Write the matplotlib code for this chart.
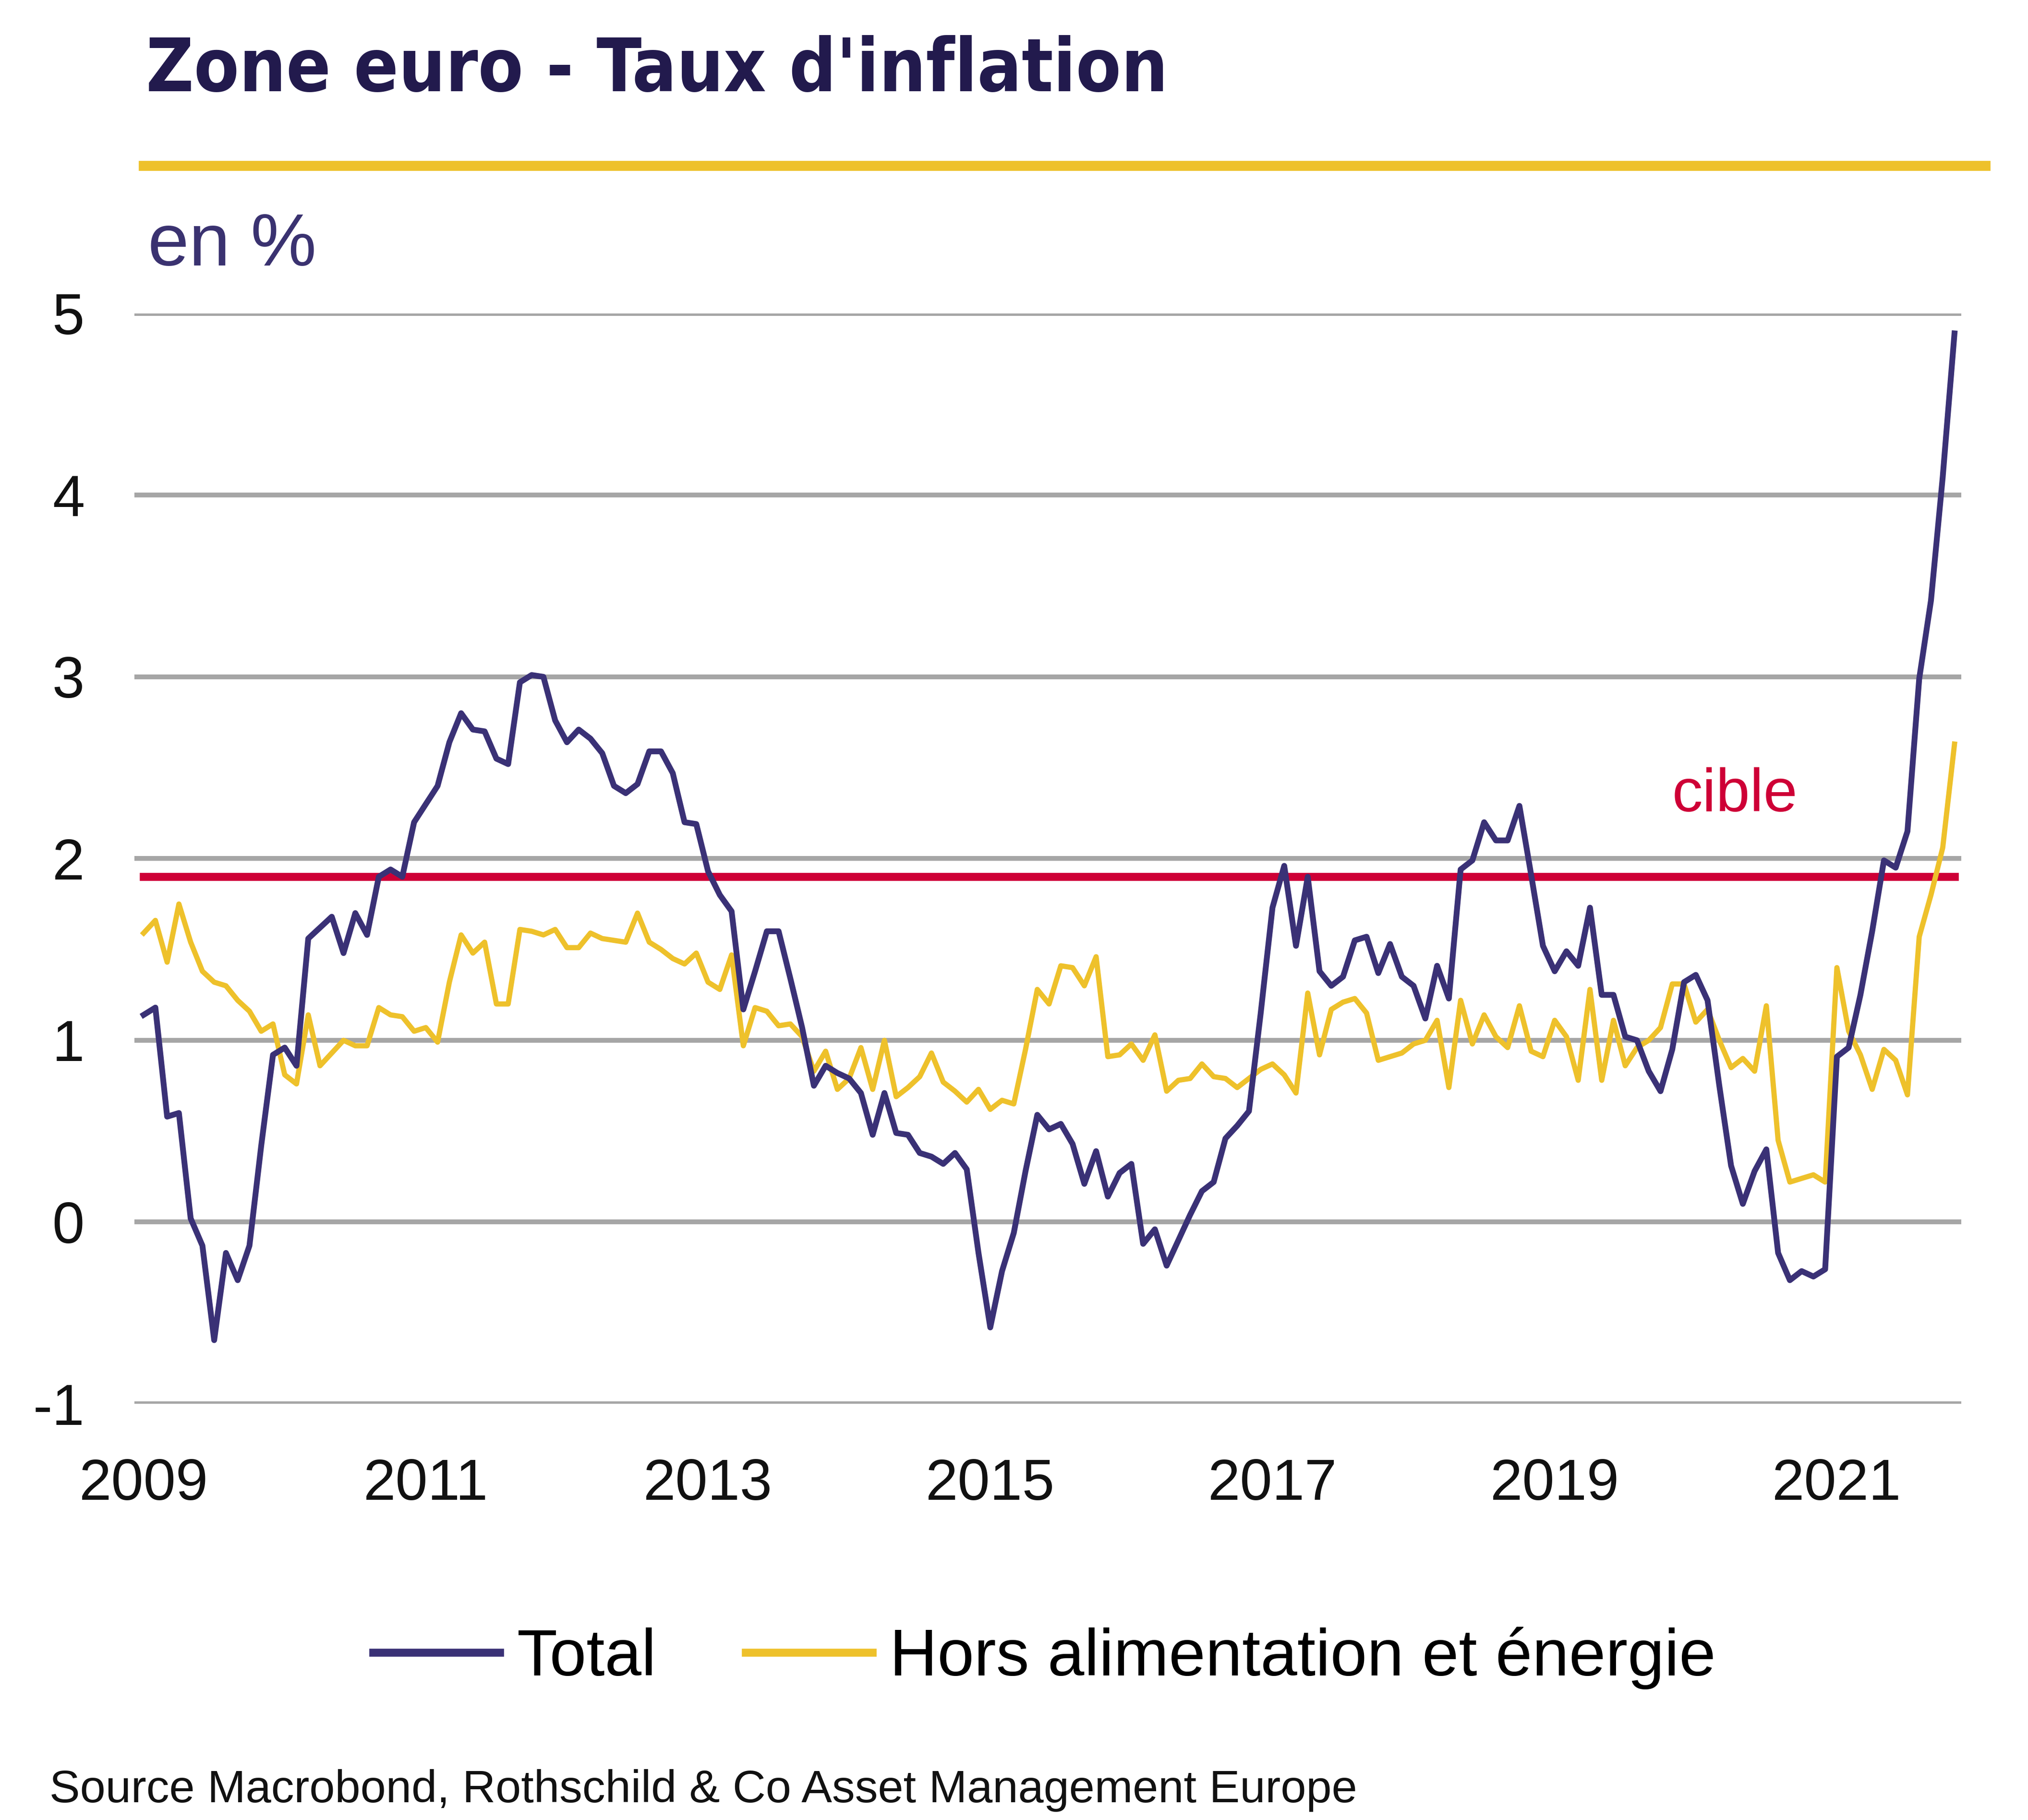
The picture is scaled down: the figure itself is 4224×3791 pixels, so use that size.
import numpy as np
import matplotlib
matplotlib.use("Agg")
import matplotlib.pyplot as plt
from matplotlib.lines import Line2D
from matplotlib import font_manager

# monthly rates, Jan 2009 - Nov 2021
total = [
    1.14, 1.18, 0.58, 0.60, 0.02, -0.13, -0.65, -0.17, -0.32, -0.13, 0.42, 0.92,
    0.96, 0.86, 1.56, 1.62, 1.68, 1.48, 1.70, 1.58, 1.90, 1.94, 1.90, 2.20,
    2.30, 2.40, 2.64, 2.80, 2.71, 2.70, 2.55, 2.52, 2.97, 3.01, 3.00, 2.76,
    2.64, 2.71, 2.66, 2.58, 2.40, 2.36, 2.41, 2.59, 2.59, 2.47, 2.20, 2.19,
    1.93, 1.80, 1.71, 1.17, 1.38, 1.60, 1.60, 1.34, 1.07, 0.75, 0.86, 0.82,
    0.79, 0.71, 0.48, 0.71, 0.49, 0.48, 0.38, 0.36, 0.32, 0.38, 0.29, -0.17,
    -0.58, -0.27, -0.06, 0.28, 0.59, 0.51, 0.54, 0.43, 0.21, 0.39, 0.14, 0.27,
    0.32, -0.12, -0.04, -0.24, -0.10, 0.04, 0.17, 0.22, 0.46, 0.53, 0.61, 1.15,
    1.73, 1.96, 1.52, 1.90, 1.38, 1.30, 1.35, 1.55, 1.57, 1.37, 1.53, 1.35,
    1.30, 1.12, 1.41, 1.23, 1.94, 1.99, 2.20, 2.10, 2.10, 2.29, 1.91, 1.52,
    1.38, 1.49, 1.41, 1.73, 1.25, 1.25, 1.02, 1.00, 0.83, 0.72, 0.95, 1.32,
    1.36, 1.22, 0.75, 0.31, 0.10, 0.28, 0.40, -0.17, -0.32, -0.27, -0.30, -0.26,
    0.91, 0.96, 1.25, 1.60, 1.99, 1.95, 2.15, 2.99, 3.42, 4.10, 4.89,
]
core = [
    1.59, 1.66, 1.43, 1.75, 1.54, 1.38, 1.32, 1.30, 1.22, 1.16, 1.05, 1.09,
    0.81, 0.76, 1.14, 0.86, 0.93, 1.00, 0.97, 0.97, 1.18, 1.14, 1.13, 1.05,
    1.07, 0.99, 1.32, 1.58, 1.48, 1.54, 1.20, 1.20, 1.61, 1.60, 1.58, 1.61,
    1.51, 1.51, 1.59, 1.56, 1.55, 1.54, 1.70, 1.54, 1.50, 1.45, 1.42, 1.48,
    1.32, 1.28, 1.47, 0.97, 1.18, 1.16, 1.08, 1.09, 1.02, 0.83, 0.94, 0.73,
    0.79, 0.96, 0.73, 1.00, 0.69, 0.74, 0.80, 0.93, 0.77, 0.72, 0.66, 0.73,
    0.62, 0.67, 0.65, 0.95, 1.28, 1.20, 1.41, 1.40, 1.30, 1.46, 0.91, 0.92,
    0.98, 0.89, 1.03, 0.72, 0.78, 0.79, 0.87, 0.80, 0.79, 0.74, 0.79, 0.84,
    0.87, 0.81, 0.71, 1.26, 0.92, 1.17, 1.21, 1.23, 1.15, 0.89, 0.91, 0.93,
    0.98, 1.00, 1.11, 0.74, 1.22, 0.98, 1.14, 1.02, 0.96, 1.19, 0.94, 0.91,
    1.11, 1.02, 0.78, 1.28, 0.78, 1.11, 0.86, 0.96, 1.00, 1.07, 1.31, 1.31,
    1.10, 1.17, 1.00, 0.85, 0.90, 0.83, 1.19, 0.45, 0.22, 0.24, 0.26, 0.22,
    1.40, 1.05, 0.92, 0.73, 0.95, 0.89, 0.70, 1.57, 1.80, 2.06, 2.63,
]
target = 1.9
year_labels = ["2009", "2011", "2013", "2015", "2017", "2019", "2021"]
y_ticks = [-1, 0, 1, 2, 3, 4, 5]

NAVY = "#3A3176"
GOLD = "#EEC12B"
RED = "#CE0036"
TITLE = "#221A4D"

plt.rcParams["font.family"] = ["Liberation Sans", "DejaVu Sans"]


def has_font(name, **kw):
    try:
        font_manager.findfont(font_manager.FontProperties(family=name, **kw),
                              fallback_to_default=False)
        return True
    except ValueError:
        return False


narrow = "Liberation Sans Narrow" if has_font("Liberation Sans Narrow") else "Liberation Sans"

fig = plt.figure(figsize=(14.08, 12.6367), dpi=300)
ax = fig.add_axes([0.0663, 0.2287, 0.9007, 0.5991])

months = np.arange(len(total))
for v in y_ticks:
    ax.axhline(v, color="#A6A6A6", lw=2.4, zorder=1)
ax.plot([months[0], months[-1]], [target, target], color=RED, lw=4.0, zorder=2)
ax.plot(months, core, color=GOLD, lw=2.6, zorder=3)
ax.plot(months, total, color=NAVY, lw=2.9, zorder=4)

ax.set_xlim(-0.78, 154.56)
ax.set_ylim(-1, 5)
ax.set_xticks(np.arange(len(year_labels)) * 24)
ax.set_xticklabels(year_labels)
ax.set_yticks(y_ticks)
ax.set_yticklabels([str(v) for v in y_ticks])
ax.tick_params(axis="both", length=0, labelsize=29, colors="#111111")
ax.tick_params(axis="x", pad=27)
ax.tick_params(axis="y", pad=25)
for s in ax.spines.values():
    s.set_visible(False)

ax.text(135.3, 2.26, "cible", color=RED, fontsize=30.5, ha="center", va="baseline")

renderer = fig.canvas.get_renderer()


def fit_width(txt, width_px):
    w = txt.get_window_extent(renderer).width
    txt.set_fontsize(txt.get_fontsize() * width_px / w)


title = fig.text(0.072, 0.95, "Zone euro - Taux d'inflation", fontsize=40, fontweight="bold",
                 color=TITLE, family=["DejaVu Sans"], fontstretch="condensed", va="baseline")
fit_width(title, 2130)

fig.add_artist(Line2D([0.0708, 0.979], [0.909, 0.909], color=GOLD, lw=5))

fig.text(0.073, 0.854, "en %", fontsize=37, color="#3A3270", va="baseline")

handles = [Line2D([], [], color=NAVY, lw=4), Line2D([], [], color=GOLD, lw=4)]
leg_size = 36 if narrow != "Liberation Sans" else 33
fig.legend(handles, ["Total", "Hors alimentation et énergie"], loc="center",
           bbox_to_anchor=(0.515, 0.089), ncol=2, frameon=False,
           prop={"family": [narrow, "DejaVu Sans"], "size": leg_size},
           handlelength=264 / (leg_size * 300 / 72), handletextpad=0.26,
           columnspacing=1.35)

src = fig.text(0.0245, 0.0098, "Source Macrobond, Rothschild & Co Asset Management Europe",
               fontsize=23, color="#111111", family=[narrow, "DejaVu Sans"], va="baseline")
fit_width(src, 2725)

fig.savefig("out.png", dpi=300)
